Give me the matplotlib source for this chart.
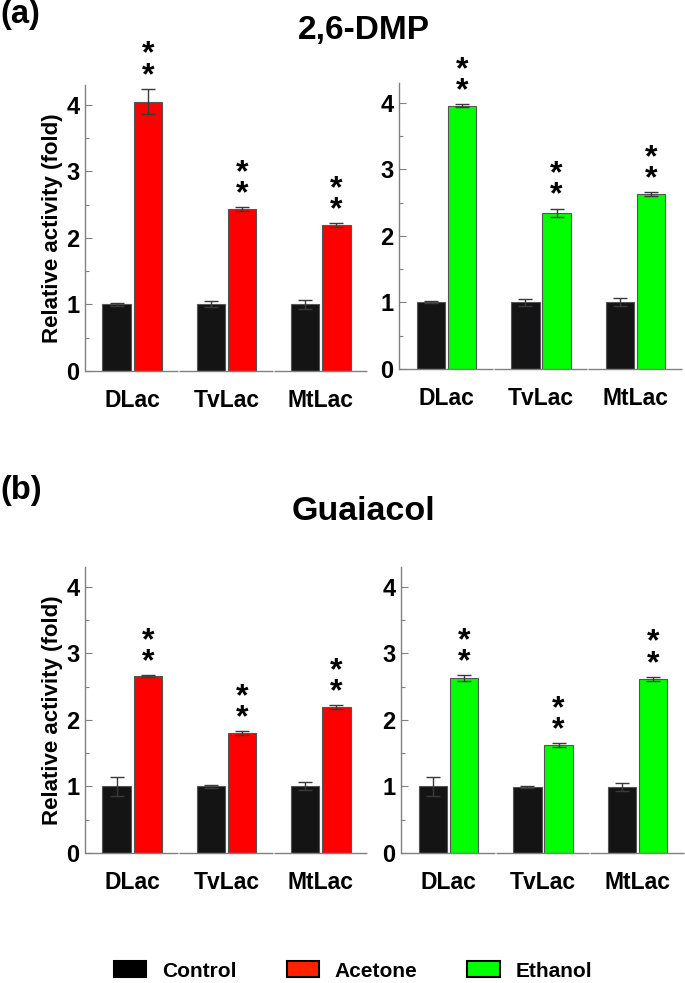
import numpy as np
import matplotlib
matplotlib.use("Agg")
import matplotlib.pyplot as plt
from matplotlib.patches import Patch
from matplotlib.ticker import MultipleLocator

plt.rcParams['font.family'] = ['Liberation Sans', 'DejaVu Sans']
plt.rcParams['font.weight'] = 'bold'

# data
enzymes = ["DLac", "TvLac", "MtLac"]

dmp_ctrl_a = [1.0, 1.0, 1.0]
dmp_ctrl_a_err = [0.02, 0.045, 0.065]
dmp_acetone = [4.05, 2.43, 2.19]
dmp_acetone_err = [0.19, 0.03, 0.03]

dmp_ctrl_e = [1.0, 1.0, 1.0]
dmp_ctrl_e_err = [0.015, 0.05, 0.06]
dmp_ethanol = [3.96, 2.35, 2.63]
dmp_ethanol_err = [0.02, 0.06, 0.03]

gua_ctrl_a = [1.0, 1.0, 1.0]
gua_ctrl_a_err = [0.14, 0.02, 0.06]
gua_acetone = [2.66, 1.80, 2.19]
gua_acetone_err = [0.01, 0.03, 0.03]

gua_ctrl_e = [1.0, 0.99, 0.99]
gua_ctrl_e_err = [0.14, 0.02, 0.06]
gua_ethanol = [2.63, 1.62, 2.62]
gua_ethanol_err = [0.04, 0.03, 0.03]

ctrl_color = "#141414"
acetone_color = "#ff0000"
ethanol_color = "#00ff00"

W, H = 685, 983
fig = plt.figure(figsize=(W / 100, H / 100), dpi=100)


def px_axes(left, right, top, bottom):
    return fig.add_axes([left / W, 1 - bottom / H, (right - left) / W, (bottom - top) / H])


def panel(ax, ctrl, ctrl_err, treat, treat_err, color, ylabel=True):
    x = np.arange(len(enzymes))
    w = 0.30
    off = 0.165
    ekw = dict(ecolor="#3a3a3a", elinewidth=1.0, capsize=5, capthick=1.0)
    ax.bar(x - off, ctrl, w, color=ctrl_color, edgecolor="#555555", linewidth=0.8,
           yerr=ctrl_err, error_kw=ekw, zorder=2)
    ax.bar(x + off, treat, w, color=color, edgecolor="#555555", linewidth=0.8,
           yerr=treat_err, error_kw=ekw, zorder=2)
    # two stacked significance stars in one text
    for xi, v, e in zip(x, treat, treat_err):
        ax.annotate("*\n*", (xi + off, v + e), xytext=(0, 17), textcoords="offset points",
                    ha="center", va="center", fontsize=23, fontweight="bold",
                    linespacing=0.62, annotation_clip=False)
    # broken baseline under each group
    for xi in x:
        ax.plot([xi - 0.5, xi + 0.49], [0, 0], color="#808080", lw=1.0,
                clip_on=False, zorder=3, solid_capstyle="butt")
    ax.set_xlim(-0.5, 2.5)
    ax.set_ylim(0, 4.3)
    ax.set_xticks(x)
    ax.set_xticklabels(enzymes, fontsize=16.5, fontweight="bold")
    ax.tick_params(axis="x", length=0, pad=13)
    ax.yaxis.set_major_locator(MultipleLocator(1))
    ax.yaxis.set_minor_locator(MultipleLocator(0.5))
    ax.tick_params(axis="y", which="major", direction="in", length=5, width=0.8,
                   color="#808080", labelsize=17, pad=4)
    ax.tick_params(axis="y", which="minor", direction="in", length=3, width=0.8,
                   color="#808080")
    for lab in ax.get_yticklabels():
        lab.set_fontweight("bold")
    for s in ("top", "right", "bottom"):
        ax.spines[s].set_visible(False)
    ax.spines["left"].set_color("#808080")
    ax.spines["left"].set_linewidth(1.0)
    if ylabel:
        ax.set_ylabel("Relative activity (fold)", fontsize=16, fontweight="bold", labelpad=2)


ax1 = px_axes(85, 368, 85, 371)
panel(ax1, dmp_ctrl_a, dmp_ctrl_a_err, dmp_acetone, dmp_acetone_err, acetone_color)
ax2 = px_axes(399, 683, 83, 369)
panel(ax2, dmp_ctrl_e, dmp_ctrl_e_err, dmp_ethanol, dmp_ethanol_err, ethanol_color, ylabel=False)
ax3 = px_axes(85, 368, 567, 853)
panel(ax3, gua_ctrl_a, gua_ctrl_a_err, gua_acetone, gua_acetone_err, acetone_color)
ax4 = px_axes(401, 685, 567, 853)
panel(ax4, gua_ctrl_e, gua_ctrl_e_err, gua_ethanol, gua_ethanol_err, ethanol_color, ylabel=False)

fig.text(364 / W, 1 - 31 / H, "2,6-DMP", ha="center", va="center", fontsize=24, fontweight="bold")
fig.text(363 / W, 1 - 511 / H, "Guaiacol", ha="center", va="center", fontsize=24.5, fontweight="bold")
fig.text(0 / W, 1 - 14 / H, "(a)", ha="left", va="center", fontsize=23.5, fontweight="bold")
fig.text(0 / W, 1 - 490 / H, "(b)", ha="left", va="center", fontsize=23.5, fontweight="bold")

handles = [Patch(facecolor="#000000", edgecolor="#000000", lw=1.5, label="Control"),
           Patch(facecolor="#ff2200", edgecolor="#000000", lw=1.5, label="Acetone"),
           Patch(facecolor="#00ff00", edgecolor="#000000", lw=1.5, label="Ethanol")]
leg = fig.legend(handles=handles, loc="center", bbox_to_anchor=(353 / W, 1 - 971 / H), ncol=3,
                 frameon=False, prop={"size": 15, "weight": "bold"}, handlelength=1.55,
                 handleheight=0.8, handletextpad=0.75, columnspacing=2.4)

fig.savefig("out.png", dpi=100)
